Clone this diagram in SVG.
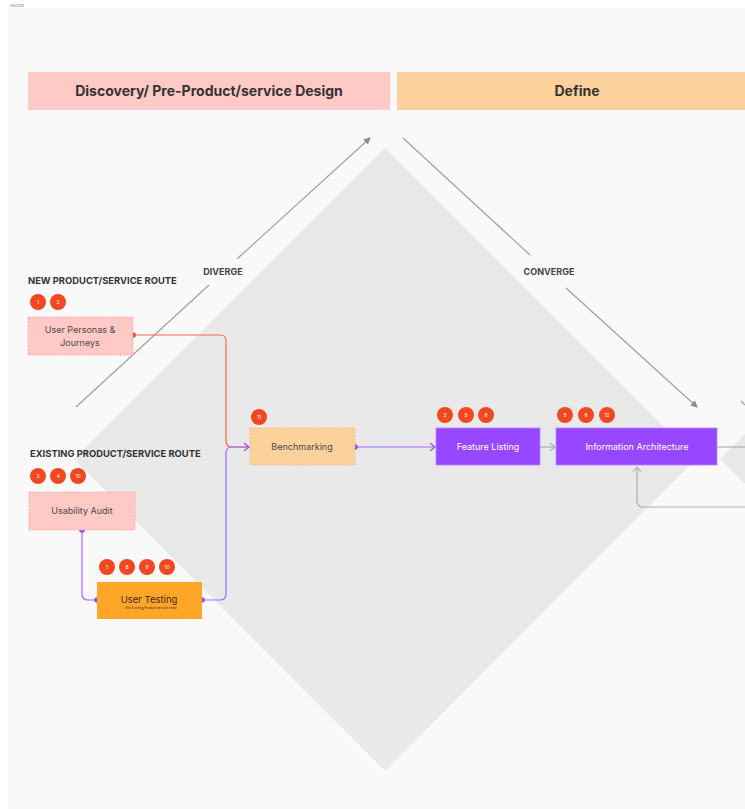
<svg xmlns="http://www.w3.org/2000/svg" width="745" height="809" viewBox="0 0 745 809">
<defs>
<style>
text{font-family:Inter,"Liberation Sans",sans-serif}
.hdr{font-size:14px;font-weight:700;fill:#333;text-anchor:middle}
.route{font-size:9.4px;font-weight:700;fill:#333}
.lbl{font-size:9px;font-weight:700;fill:#444;text-anchor:middle}
.badge circle{fill:#f24822}
.badge text{font-size:5px;fill:#fff;text-anchor:middle}
.nt{font-size:9px;fill:#4a4a4a;text-anchor:middle}
.wt{font-size:9px;fill:#fff;text-anchor:middle}
.pink{fill:#ffc9c6;stroke:#f5a3a0;stroke-width:0.8;stroke-dasharray:2 1.5}
.peach{fill:#fdd19b;stroke:#f0b870;stroke-width:0.8;stroke-dasharray:2 1.5}
.purple{fill:#9747ff;stroke:#b383ff;stroke-width:0.8}
.guide{stroke:#a0a0a0;stroke-width:1.2;fill:none}
</style>
<marker id="ag" markerWidth="8" markerHeight="8" refX="6" refY="4" orient="auto" markerUnits="userSpaceOnUse"><path d="M0,0.5 L7,4 L0,7.5 Z" fill="#8a8a8a"/></marker>
<marker id="ap" markerWidth="8" markerHeight="10" refX="6" refY="5" orient="auto" markerUnits="userSpaceOnUse"><path d="M1,1 L6,5 L1,9" fill="none" stroke="#9747ff" stroke-width="1.2"/></marker>
<marker id="agr" markerWidth="8" markerHeight="10" refX="6" refY="5" orient="auto" markerUnits="userSpaceOnUse"><path d="M1,1 L6,5 L1,9" fill="none" stroke="#b0b0b0" stroke-width="1.2"/></marker>
</defs>
<rect width="745" height="809" fill="#ffffff"/>
<rect x="8" y="8" width="737" height="801" fill="#f9f9f9"/>
<text x="10" y="7" style="font-size:4px;fill:#777">Section</text>

<g id="diamonds">
<polygon points="385,148 696,459 385,771 74,459" fill="#e9e9e9"/>
<polygon points="745,434 720,459 745,484" fill="#e9e9e9"/>
</g>

<g id="headers">
<g id="hdr-discovery"><rect x="28" y="72" width="362" height="38" fill="#ffc9c6"/><text class="hdr" x="209" y="96">Discovery/ Pre-Product/service Design</text></g>
<g id="hdr-define"><rect x="397" y="72" width="348" height="38" fill="#fdd19b"/><text class="hdr" x="577" y="96">Define</text></g>
</g>

<g id="phase-guides">
<line class="guide" x1="76" y1="407" x2="209" y2="285"/>
<line class="guide" x1="237" y1="259" x2="370" y2="138" marker-end="url(#ag)"/>
<text class="lbl" x="223" y="275">DIVERGE</text>
<line class="guide" x1="403" y1="138" x2="530" y2="255"/>
<line class="guide" x1="566" y1="288" x2="697" y2="407" marker-end="url(#ag)"/>
<text class="lbl" x="549" y="275">CONVERGE</text>
<line class="guide" x1="741" y1="401" x2="745" y2="405"/>
</g>

<g id="connectors" fill="none" stroke-width="1.2">
<path d="M133,335 H220 Q226,335 226,341 V441 Q226,447 232,447 H249" stroke="#f2684e"/>
<path d="M202,600 H220 Q226,600 226,594 V453 Q226,447 232,447 H249" stroke="#a26bff" marker-end="url(#ap)"/>
<path d="M82,530 V594 Q82,600 88,600 H97" stroke="#a26bff"/>
<path d="M355,447 H435" stroke="#a26bff" marker-end="url(#ap)"/>
<path d="M540,447 H555" stroke="#b0b0b0" marker-end="url(#agr)"/>
<path d="M717,447 H745" stroke="#b0b0b0"/>
<path d="M745,507 H643 Q637,507 637,501 V467" stroke="#b0b0b0" marker-end="url(#agr)"/>
<circle cx="133" cy="335" r="2.8" fill="#f04a2a" stroke="none"/>
<circle cx="82" cy="530" r="2.8" fill="#9747ff" stroke="none"/>
<circle cx="97" cy="600" r="2.8" fill="#9747ff" stroke="none"/>
<circle cx="202" cy="600" r="2.8" fill="#9747ff" stroke="none"/>
<circle cx="355" cy="447" r="2.8" fill="#9747ff" stroke="none"/>
</g>

<g id="route-new">
<text class="route" x="28" y="284">NEW PRODUCT/SERVICE ROUTE</text>
<g class="badge"><circle cx="38" cy="302" r="8"/><text x="38" y="304">1</text><circle cx="58" cy="302" r="8"/><text x="58" y="304">2</text></g>
</g>

<g id="node-personas">
<rect class="pink" x="28" y="317" width="105" height="38"/>
<text class="nt" x="80" y="333">User Personas &amp;</text>
<text class="nt" x="80" y="346">Journeys</text>
</g>

<g id="route-existing">
<text class="route" x="30" y="457">EXISTING PRODUCT/SERVICE ROUTE</text>
<g class="badge"><circle cx="38" cy="476" r="8"/><text x="38" y="478">3</text><circle cx="58" cy="476" r="8"/><text x="58" y="478">4</text><circle cx="78" cy="476" r="8"/><text x="78" y="478">10</text></g>
</g>

<g id="node-usability">
<rect class="pink" x="29" y="492" width="106" height="38"/>
<text class="nt" x="82" y="514">Usability Audit</text>
</g>

<g id="node-usertesting">
<g class="badge"><circle cx="107" cy="567" r="8"/><text x="107" y="569">1</text><circle cx="127" cy="567" r="8"/><text x="127" y="569">8</text><circle cx="147" cy="567" r="8"/><text x="147" y="569">9</text><circle cx="167" cy="567" r="8"/><text x="167" y="569">10</text></g>
<rect x="97" y="582" width="105" height="37" fill="#ffa629"/>
<text x="149" y="603" style="font-size:9.5px;fill:#3a2a10;text-anchor:middle">User Testing</text>
<text x="151" y="609" style="font-size:3.2px;fill:#3a2a10;text-anchor:middle">(for Existing Product/service only)</text>
</g>

<g id="node-benchmarking">
<g class="badge"><circle cx="259" cy="417" r="8"/><text x="259" y="419">11</text></g>
<rect class="peach" x="250" y="428" width="105" height="37"/>
<text class="nt" x="302" y="450">Benchmarking</text>
</g>

<g id="node-feature">
<g class="badge"><circle cx="445" cy="415" r="8"/><text x="445" y="417">2</text><circle cx="466" cy="415" r="8"/><text x="466" y="417">5</text><circle cx="486" cy="415" r="8"/><text x="486" y="417">6</text></g>
<rect class="purple" x="436" y="428" width="104" height="37"/>
<text class="wt" x="488" y="450">Feature Listing</text>
</g>

<g id="node-ia">
<g class="badge"><circle cx="565" cy="415" r="8"/><text x="565" y="417">5</text><circle cx="586" cy="415" r="8"/><text x="586" y="417">6</text><circle cx="607" cy="415" r="8"/><text x="607" y="417">12</text></g>
<rect class="purple" x="556" y="428" width="161" height="37"/>
<text class="wt" x="637" y="450">Information Architecture</text>
</g>
</svg>
